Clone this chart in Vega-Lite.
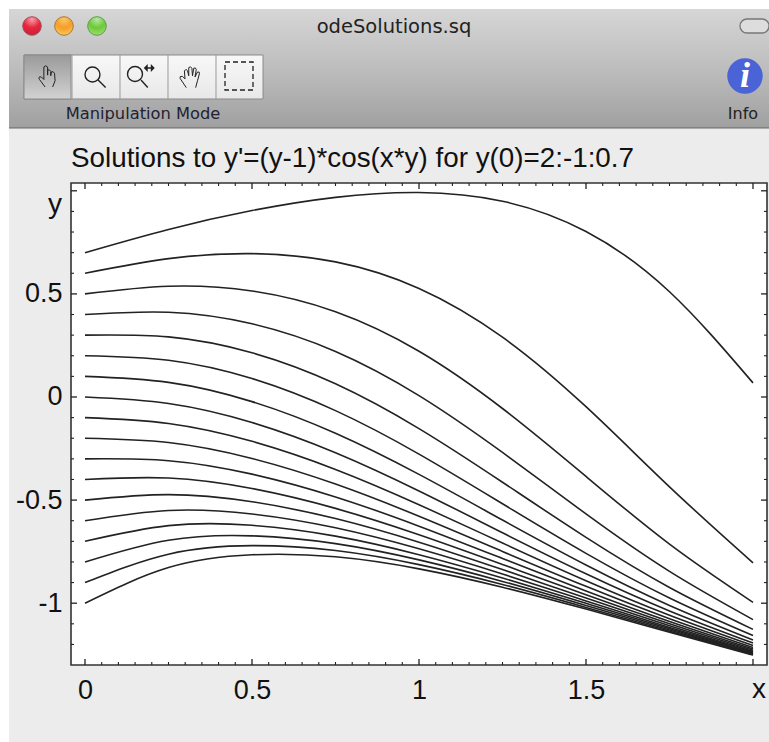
{"$schema":"https://vega.github.io/schema/vega-lite/v6.json","width":696,"height":482,"autosize":{"type":"none"},"padding":{"left":71,"top":183,"right":2,"bottom":77},"background":"#ffffff","view":{"stroke":null},
"resolve":{"axis":{"x":"independent","y":"independent"}},
"datasets":{
"one":[{"id":1}],
"curves":[
{"s":0.7,"x":0,"y":0.7},{"s":0.7,"x":0.25,"y":0.8126},{"s":0.7,"x":0.5,"y":0.9041},{"s":0.7,"x":0.75,"y":0.9683},{"s":0.7,"x":1,"y":0.9918},{"s":0.7,"x":1.25,"y":0.9495},{"s":0.7,"x":1.5,"y":0.8027},{"s":0.7,"x":1.75,"y":0.5104},{"s":0.7,"x":2,"y":0.0684},
{"s":0.6,"x":0,"y":0.6},{"s":0.6,"x":0.25,"y":0.6709},{"s":0.6,"x":0.5,"y":0.6953},{"s":0.6,"x":0.75,"y":0.6553},{"s":0.6,"x":1,"y":0.5266},{"s":0.6,"x":1.25,"y":0.2902},{"s":0.6,"x":1.5,"y":-0.0471},{"s":0.6,"x":1.75,"y":-0.4357},{"s":0.6,"x":2,"y":-0.8042},
{"s":0.5,"x":0,"y":0.5},{"s":0.5,"x":0.25,"y":0.5372},{"s":0.5,"x":0.5,"y":0.514},{"s":0.5,"x":0.75,"y":0.4134},{"s":0.5,"x":1,"y":0.2219},{"s":0.5,"x":1.25,"y":-0.0558},{"s":0.5,"x":1.5,"y":-0.3853},{"s":0.5,"x":1.75,"y":-0.7133},{"s":0.5,"x":2,"y":-0.9957},
{"s":0.4,"x":0,"y":0.4},{"s":0.4,"x":0.25,"y":0.4109},{"s":0.4,"x":0.5,"y":0.355},{"s":0.4,"x":0.75,"y":0.2209},{"s":0.4,"x":1,"y":0.0067},{"s":0.4,"x":1.25,"y":-0.2689},{"s":0.4,"x":1.5,"y":-0.5671},{"s":0.4,"x":1.75,"y":-0.8459},{"s":0.4,"x":2,"y":-1.0797},
{"s":0.3,"x":0,"y":0.3},{"s":0.3,"x":0.25,"y":0.2914},{"s":0.3,"x":0.5,"y":0.2145},{"s":0.3,"x":0.75,"y":0.0641},{"s":0.3,"x":1,"y":-0.1533},{"s":0.3,"x":1.25,"y":-0.4134},{"s":0.3,"x":1.5,"y":-0.6806},{"s":0.3,"x":1.75,"y":-0.9236},{"s":0.3,"x":2,"y":-1.1269},
{"s":0.2,"x":0,"y":0.2},{"s":0.2,"x":0.25,"y":0.1782},{"s":0.2,"x":0.5,"y":0.0895},{"s":0.2,"x":0.75,"y":-0.0662},{"s":0.2,"x":1,"y":-0.2769},{"s":0.2,"x":1.25,"y":-0.5178},{"s":0.2,"x":1.5,"y":-0.7582},{"s":0.2,"x":1.75,"y":-0.9746},{"s":0.2,"x":2,"y":-1.1571},
{"s":0.1,"x":0,"y":0.1},{"s":0.1,"x":0.25,"y":0.0708},{"s":0.1,"x":0.5,"y":-0.0225},{"s":0.1,"x":0.75,"y":-0.176},{"s":0.1,"x":1,"y":-0.3754},{"s":0.1,"x":1.25,"y":-0.5967},{"s":0.1,"x":1.5,"y":-0.8146},{"s":0.1,"x":1.75,"y":-1.0107},{"s":0.1,"x":2,"y":-1.1781},
{"s":0,"x":0,"y":0},{"s":0,"x":0.25,"y":-0.0312},{"s":0,"x":0.5,"y":-0.1235},{"s":0,"x":0.75,"y":-0.27},{"s":0,"x":1,"y":-0.4555},{"s":0,"x":1.25,"y":-0.6585},{"s":0,"x":1.5,"y":-0.8574},{"s":0,"x":1.75,"y":-1.0376},{"s":0,"x":2,"y":-1.1936},
{"s":-0.1,"x":0,"y":-0.1},{"s":-0.1,"x":0.25,"y":-0.1283},{"s":-0.1,"x":0.5,"y":-0.2149},{"s":-0.1,"x":0.75,"y":-0.3512},{"s":-0.1,"x":1,"y":-0.5221},{"s":-0.1,"x":1.25,"y":-0.7082},{"s":-0.1,"x":1.5,"y":-0.891},{"s":-0.1,"x":1.75,"y":-1.0584},{"s":-0.1,"x":2,"y":-1.2054},
{"s":-0.2,"x":0,"y":-0.2},{"s":-0.2,"x":0.25,"y":-0.2207},{"s":-0.2,"x":0.5,"y":-0.2981},{"s":-0.2,"x":0.75,"y":-0.4222},{"s":-0.2,"x":1,"y":-0.5783},{"s":-0.2,"x":1.25,"y":-0.749},{"s":-0.2,"x":1.5,"y":-0.9182},{"s":-0.2,"x":1.75,"y":-1.075},{"s":-0.2,"x":2,"y":-1.2148},
{"s":-0.3,"x":0,"y":-0.3},{"s":-0.3,"x":0.25,"y":-0.3088},{"s":-0.3,"x":0.5,"y":-0.3741},{"s":-0.3,"x":0.75,"y":-0.4847},{"s":-0.3,"x":1,"y":-0.6264},{"s":-0.3,"x":1.25,"y":-0.7832},{"s":-0.3,"x":1.5,"y":-0.9405},{"s":-0.3,"x":1.75,"y":-1.0885},{"s":-0.3,"x":2,"y":-1.2224},
{"s":-0.4,"x":0,"y":-0.4},{"s":-0.4,"x":0.25,"y":-0.393},{"s":-0.4,"x":0.5,"y":-0.4438},{"s":-0.4,"x":0.75,"y":-0.5402},{"s":-0.4,"x":1,"y":-0.6679},{"s":-0.4,"x":1.25,"y":-0.8121},{"s":-0.4,"x":1.5,"y":-0.9592},{"s":-0.4,"x":1.75,"y":-1.0997},{"s":-0.4,"x":2,"y":-1.2286},
{"s":-0.5,"x":0,"y":-0.5},{"s":-0.5,"x":0.25,"y":-0.4734},{"s":-0.5,"x":0.5,"y":-0.508},{"s":-0.5,"x":0.75,"y":-0.5897},{"s":-0.5,"x":1,"y":-0.7042},{"s":-0.5,"x":1.25,"y":-0.837},{"s":-0.5,"x":1.5,"y":-0.9751},{"s":-0.5,"x":1.75,"y":-1.1092},{"s":-0.5,"x":2,"y":-1.2339},
{"s":-0.6,"x":0,"y":-0.6},{"s":-0.6,"x":0.25,"y":-0.5503},{"s":-0.6,"x":0.5,"y":-0.5673},{"s":-0.6,"x":0.75,"y":-0.6343},{"s":-0.6,"x":1,"y":-0.7362},{"s":-0.6,"x":1.25,"y":-0.8586},{"s":-0.6,"x":1.5,"y":-0.9888},{"s":-0.6,"x":1.75,"y":-1.1173},{"s":-0.6,"x":2,"y":-1.2384},
{"s":-0.7,"x":0,"y":-0.7},{"s":-0.7,"x":0.25,"y":-0.624},{"s":-0.7,"x":0.5,"y":-0.6223},{"s":-0.7,"x":0.75,"y":-0.6746},{"s":-0.7,"x":1,"y":-0.7646},{"s":-0.7,"x":1.25,"y":-0.8776},{"s":-0.7,"x":1.5,"y":-1.0007},{"s":-0.7,"x":1.75,"y":-1.1243},{"s":-0.7,"x":2,"y":-1.2423},
{"s":-0.8,"x":0,"y":-0.8},{"s":-0.8,"x":0.25,"y":-0.6945},{"s":-0.8,"x":0.5,"y":-0.6733},{"s":-0.8,"x":0.75,"y":-0.7112},{"s":-0.8,"x":1,"y":-0.79},{"s":-0.8,"x":1.25,"y":-0.8943},{"s":-0.8,"x":1.5,"y":-1.0111},{"s":-0.8,"x":1.75,"y":-1.1304},{"s":-0.8,"x":2,"y":-1.2457},
{"s":-0.9,"x":0,"y":-0.9},{"s":-0.9,"x":0.25,"y":-0.7622},{"s":-0.9,"x":0.5,"y":-0.7209},{"s":-0.9,"x":0.75,"y":-0.7445},{"s":-0.9,"x":1,"y":-0.8128},{"s":-0.9,"x":1.25,"y":-0.9092},{"s":-0.9,"x":1.5,"y":-1.0204},{"s":-0.9,"x":1.75,"y":-1.1358},{"s":-0.9,"x":2,"y":-1.2487},
{"s":-1,"x":0,"y":-1},{"s":-1,"x":0.25,"y":-0.8273},{"s":-1,"x":0.5,"y":-0.7653},{"s":-1,"x":0.75,"y":-0.7751},{"s":-1,"x":1,"y":-0.8334},{"s":-1,"x":1.25,"y":-0.9226},{"s":-1,"x":1.5,"y":-1.0286},{"s":-1,"x":1.75,"y":-1.1406},{"s":-1,"x":2,"y":-1.2513}
],
"xmajor":[{"v":0},{"v":0.5},{"v":1},{"v":1.5},{"v":2}],
"xminor":[{"v":0.05},{"v":0.1},{"v":0.15},{"v":0.2},{"v":0.25},{"v":0.3},{"v":0.35},{"v":0.4},{"v":0.45},{"v":0.55},{"v":0.6},{"v":0.65},{"v":0.7},{"v":0.75},{"v":0.8},{"v":0.85},{"v":0.9},{"v":0.95},{"v":1.05},{"v":1.1},{"v":1.15},{"v":1.2},{"v":1.25},{"v":1.3},{"v":1.35},{"v":1.4},{"v":1.45},{"v":1.55},{"v":1.6},{"v":1.65},{"v":1.7},{"v":1.75},{"v":1.8},{"v":1.85},{"v":1.9},{"v":1.95}],
"ymajor":[{"v":-1},{"v":-0.5},{"v":0},{"v":0.5},{"v":1}],
"yminor":[{"v":-1.2},{"v":-1.1},{"v":-0.9},{"v":-0.8},{"v":-0.7},{"v":-0.6},{"v":-0.4},{"v":-0.3},{"v":-0.2},{"v":-0.1},{"v":0.1},{"v":0.2},{"v":0.3},{"v":0.4},{"v":0.6},{"v":0.7},{"v":0.8},{"v":0.9}],
"seps":[{"v":-0.0389},{"v":0.1048},{"v":0.2485},{"v":0.3922}]
},
"layer":[
{"data":{"name":"one"},"mark":{"type":"rect","fill":"#ececec"},"encoding":{"x":{"datum":-0.2275,"type":"quantitative","axis":null},"x2":{"datum":2.048},"y":{"datum":1.8817,"type":"quantitative","axis":null},"y2":{"datum":-1.673}}},
{"data":{"name":"one"},"mark":{"type":"rect","fill":{"x1":0,"y1":0,"x2":0,"y2":1,"gradient":"linear","stops":[{"offset":0,"color":"#d6d6d6"},{"offset":0.5,"color":"#bdbdbd"},{"offset":1,"color":"#a0a0a0"}]}},"encoding":{"x":{"datum":-0.2275,"type":"quantitative","axis":null},"x2":{"datum":2.048},"y":{"datum":1.8817,"type":"quantitative","axis":null},"y2":{"datum":1.3046}}},
{"data":{"name":"one"},"mark":{"type":"rule","stroke":"#666666","strokeWidth":1},"encoding":{"x":{"datum":-0.2275,"type":"quantitative","axis":null},"x2":{"datum":2.048},"y":{"datum":1.3046,"type":"quantitative","axis":null}}},
{"data":{"name":"one"},"mark":{"type":"rect","fill":{"x1":0,"y1":0,"x2":0,"y2":1,"gradient":"linear","stops":[{"offset":0,"color":"#f8f8f8"},{"offset":1,"color":"#e8e8e8"}]},"stroke":"#8a8a8a","strokeWidth":1},"encoding":{"x":{"datum":-0.1826,"type":"quantitative","axis":null},"x2":{"datum":0.533},"y":{"datum":1.6586,"type":"quantitative","axis":null},"y2":{"datum":1.4452}}},
{"data":{"name":"one"},"mark":{"type":"rect","fill":{"x1":0,"y1":0,"x2":0,"y2":1,"gradient":"linear","stops":[{"offset":0,"color":"#9a9a9a"},{"offset":1,"color":"#d2d2d2"}]},"stroke":"#8a8a8a","strokeWidth":1},"encoding":{"x":{"datum":-0.1826,"type":"quantitative","axis":null},"x2":{"datum":-0.0419},"y":{"datum":1.6586,"type":"quantitative","axis":null},"y2":{"datum":1.4452}}},
{"data":{"name":"seps"},"mark":{"type":"rule","stroke":"#9a9a9a","strokeWidth":1},"encoding":{"x":{"field":"v","type":"quantitative","axis":null},"y":{"datum":1.6586,"type":"quantitative","axis":null},"y2":{"datum":1.4452}}},
{"data":{"name":"one"},"mark":{"type":"point","filled":false,"opacity":1,"size":625,"stroke":"#222222","strokeWidth":1,"shape":"M-.15,.8L-.6,.2Q-.75,-.05,-.45,0L-.25,.2L-.25,-.8Q-.1,-1,.05,-.8L.05,-.15L.05,-.55Q.2,-.65,.3,-.45L.3,-.1L.35,-.4Q.5,-.5,.6,-.3L.65,.3L.45,.8"},"encoding":{"x":{"datum":-0.1138,"type":"quantitative","axis":null},"y":{"datum":1.5519,"type":"quantitative","axis":null}}},
{"data":{"name":"one"},"mark":{"type":"point","filled":false,"opacity":1,"size":625,"stroke":"#222222","strokeWidth":1.4,"shape":"M.4,-.2A.6,.6,0,1,1,-.8,-.2A.6,.6,0,1,1,.4,-.2ZM.25,.25L.85,.85"},"encoding":{"x":{"datum":0.0299,"type":"quantitative","axis":null},"y":{"datum":1.5519,"type":"quantitative","axis":null}}},
{"data":{"name":"one"},"mark":{"type":"point","filled":false,"opacity":1,"size":900,"stroke":"#222222","strokeWidth":1.4,"shape":"M.1,-.2A.5,.5,0,1,1,-.9,-.2A.5,.5,0,1,1,.1,-.2ZM0,.2L.45,.7M.25,-.6L.85,-.6M.25,-.6L.4,-.75L.4,-.45ZM.85,-.6L.7,-.75L.7,-.45Z"},"encoding":{"x":{"datum":0.1677,"type":"quantitative","axis":null},"y":{"datum":1.5519,"type":"quantitative","axis":null}}},
{"data":{"name":"one"},"mark":{"type":"point","filled":false,"opacity":1,"size":625,"stroke":"#222222","strokeWidth":1,"shape":"M-.3,.85L-.8,.1Q-.85,-.1,-.6,-.05L-.4,.15L-.45,-.5Q-.3,-.7,-.2,-.5L-.1,-.1L-.1,-.75Q.05,-.9,.15,-.7L.2,-.1L.3,-.7Q.45,-.8,.5,-.6L.4,0L.6,-.4Q.8,-.45,.75,-.25L.6,.3L.45,.85"},"encoding":{"x":{"datum":0.3144,"type":"quantitative","axis":null},"y":{"datum":1.5519,"type":"quantitative","axis":null}}},
{"data":{"name":"one"},"mark":{"type":"rect","fillOpacity":0,"stroke":"#222222","strokeWidth":1.3,"strokeDash":[5,3]},"encoding":{"x":{"datum":0.4192,"type":"quantitative","axis":null},"x2":{"datum":0.503},"y":{"datum":1.6247,"type":"quantitative","axis":null},"y2":{"datum":1.4889}}},
{"data":{"name":"one"},"mark":{"type":"point","filled":true,"opacity":1,"size":346,"stroke":"#a05060","strokeWidth":1,"fill":{"x1":0.5,"y1":0.15,"x2":0.5,"y2":0.15,"r1":0,"r2":0.9,"gradient":"radial","stops":[{"offset":0,"color":"#f7a0a8"},{"offset":0.5,"color":"#e8253c"},{"offset":1,"color":"#c8203a"}]}},"encoding":{"x":{"datum":-0.1587,"type":"quantitative","axis":null},"y":{"datum":1.7992,"type":"quantitative","axis":null}}},
{"data":{"name":"one"},"mark":{"type":"point","filled":true,"opacity":1,"size":346,"stroke":"#a87838","strokeWidth":1,"fill":{"x1":0.5,"y1":0.15,"x2":0.5,"y2":0.15,"r1":0,"r2":0.9,"gradient":"radial","stops":[{"offset":0,"color":"#f8c868"},{"offset":0.5,"color":"#f79c28"},{"offset":1,"color":"#f8cf60"}]}},"encoding":{"x":{"datum":-0.0629,"type":"quantitative","axis":null},"y":{"datum":1.7992,"type":"quantitative","axis":null}}},
{"data":{"name":"one"},"mark":{"type":"point","filled":true,"opacity":1,"size":346,"stroke":"#5f9a50","strokeWidth":1,"fill":{"x1":0.5,"y1":0.15,"x2":0.5,"y2":0.15,"r1":0,"r2":0.9,"gradient":"radial","stops":[{"offset":0,"color":"#b8e8a0"},{"offset":0.5,"color":"#6cc83a"},{"offset":1,"color":"#a8e070"}]}},"encoding":{"x":{"datum":0.0359,"type":"quantitative","axis":null},"y":{"datum":1.7992,"type":"quantitative","axis":null}}},
{"data":{"name":"one"},"mark":{"type":"rect","cornerRadius":7,"fill":"#dddddd","stroke":"#777777","strokeWidth":1.3},"encoding":{"x":{"datum":1.961,"type":"quantitative","axis":null},"x2":{"datum":2.048},"y":{"datum":1.8332,"type":"quantitative","axis":null},"y2":{"datum":1.7653}}},
{"data":{"name":"one"},"mark":{"type":"point","filled":true,"opacity":1,"size":1257,"fill":"#4a63d6"},"encoding":{"x":{"datum":1.976,"type":"quantitative","axis":null},"y":{"datum":1.5567,"type":"quantitative","axis":null}}},
{"data":{"name":"one"},"mark":{"type":"text","text":"i","font":"Liberation Serif","fontStyle":"italic","fontWeight":"bold","fontSize":36,"color":"#ffffff","align":"center","baseline":"middle"},"encoding":{"x":{"datum":1.976,"type":"quantitative","axis":null},"y":{"datum":1.5567,"type":"quantitative","axis":null}}},
{"data":{"name":"one"},"mark":{"type":"text","text":"odeSolutions.sq","font":"DejaVu Sans","fontSize":19.5,"color":"#222222","align":"center","baseline":"middle"},"encoding":{"x":{"datum":0.9251,"type":"quantitative","axis":null},"y":{"datum":1.7944,"type":"quantitative","axis":null}}},
{"data":{"name":"one"},"mark":{"type":"text","text":"Manipulation Mode","font":"DejaVu Sans","fontSize":16.3,"color":"#222233","align":"center","baseline":"middle"},"encoding":{"x":{"datum":0.1737,"type":"quantitative","axis":null},"y":{"datum":1.3725,"type":"quantitative","axis":null}}},
{"data":{"name":"one"},"mark":{"type":"text","text":"Info","font":"DejaVu Sans","fontSize":16,"color":"#222222","align":"center","baseline":"middle"},"encoding":{"x":{"datum":1.97,"type":"quantitative","axis":null},"y":{"datum":1.3725,"type":"quantitative","axis":null}}},
{"data":{"name":"one"},"mark":{"type":"text","text":"Solutions to y'=(y-1)*cos(x*y) for y(0)=2:-1:0.7","font":"Liberation Sans","fontSize":27.8,"color":"#111111","align":"left","baseline":"alphabetic"},"encoding":{"x":{"datum":-0.0419,"type":"quantitative","axis":null},"y":{"datum":1.1154,"type":"quantitative","axis":null}}},
{"data":{"name":"one"},"mark":{"type":"rect","fill":"#ffffff","stroke":"#333333","strokeWidth":1.6},"encoding":{"x":{"datum":-0.0419,"type":"quantitative","axis":null},"x2":{"datum":2.0419},"y":{"datum":1.0378,"type":"quantitative","axis":null},"y2":{"datum":-1.2997}}},
{"data":{"name":"curves"},"mark":{"type":"line","interpolate":"natural","stroke":"#222222","strokeWidth":1.6},"encoding":{"x":{"field":"x","type":"quantitative","scale":{"domain":[-0.0419,2.0419],"nice":false,"zero":false},"axis":{"values":[0,0.5,1,1.5],"title":null,"grid":false,"ticks":false,"domain":false,"zindex":1,"labelFont":"Liberation Sans","labelFontSize":27,"labelColor":"#111111","labelPadding":12,"labelFlush":false,"labelOverlap":false,"labelExpr":"''+datum.value"}},"y":{"field":"y","type":"quantitative","scale":{"domain":[-1.2997,1.0378],"nice":false,"zero":false},"axis":{"values":[-1,-0.5,0,0.5],"title":null,"grid":false,"ticks":false,"domain":false,"zindex":1,"labelFont":"Liberation Sans","labelFontSize":27,"labelColor":"#111111","labelPadding":9,"labelFlush":false,"labelOverlap":false,"labelExpr":"''+datum.value"}},"detail":{"field":"s","type":"nominal"}}},
{"data":{"name":"xmajor"},"mark":{"type":"rule","stroke":"#222222","strokeWidth":1.3},"encoding":{"x":{"field":"v","type":"quantitative","axis":null},"y":{"datum":-1.2997,"type":"quantitative","axis":null},"y2":{"datum":-1.2706}}},
{"data":{"name":"xminor"},"mark":{"type":"rule","stroke":"#222222","strokeWidth":1.1},"encoding":{"x":{"field":"v","type":"quantitative","axis":null},"y":{"datum":-1.2997,"type":"quantitative","axis":null},"y2":{"datum":-1.2852}}},
{"data":{"name":"xmajor"},"mark":{"type":"rule","stroke":"#222222","strokeWidth":1.3},"encoding":{"x":{"field":"v","type":"quantitative","axis":null},"y":{"datum":1.0378,"type":"quantitative","axis":null},"y2":{"datum":1.0087}}},
{"data":{"name":"xminor"},"mark":{"type":"rule","stroke":"#222222","strokeWidth":1.1},"encoding":{"x":{"field":"v","type":"quantitative","axis":null},"y":{"datum":1.0378,"type":"quantitative","axis":null},"y2":{"datum":1.0233}}},
{"data":{"name":"ymajor"},"mark":{"type":"rule","stroke":"#222222","strokeWidth":1.3},"encoding":{"y":{"field":"v","type":"quantitative","axis":null},"x":{"datum":-0.0419,"type":"quantitative","axis":null},"x2":{"datum":-0.0239}}},
{"data":{"name":"yminor"},"mark":{"type":"rule","stroke":"#222222","strokeWidth":1.1},"encoding":{"y":{"field":"v","type":"quantitative","axis":null},"x":{"datum":-0.0419,"type":"quantitative","axis":null},"x2":{"datum":-0.0329}}},
{"data":{"name":"ymajor"},"mark":{"type":"rule","stroke":"#222222","strokeWidth":1.3},"encoding":{"y":{"field":"v","type":"quantitative","axis":null},"x":{"datum":2.0419,"type":"quantitative","axis":null},"x2":{"datum":2.0239}}},
{"data":{"name":"yminor"},"mark":{"type":"rule","stroke":"#222222","strokeWidth":1.1},"encoding":{"y":{"field":"v","type":"quantitative","axis":null},"x":{"datum":2.0419,"type":"quantitative","axis":null},"x2":{"datum":2.0329}}},
{"data":{"name":"one"},"mark":{"type":"text","text":"y","font":"Liberation Sans","fontSize":28,"color":"#111111","align":"center","baseline":"middle"},"encoding":{"x":{"datum":-0.0898,"type":"quantitative","axis":null},"y":{"datum":0.9311,"type":"quantitative","axis":null}}},
{"data":{"name":"one"},"mark":{"type":"text","text":"x","font":"Liberation Sans","fontSize":28,"color":"#111111","align":"center","baseline":"middle"},"encoding":{"x":{"datum":2.018,"type":"quantitative","axis":null},"y":{"datum":-1.421,"type":"quantitative","axis":null}}}
]}
